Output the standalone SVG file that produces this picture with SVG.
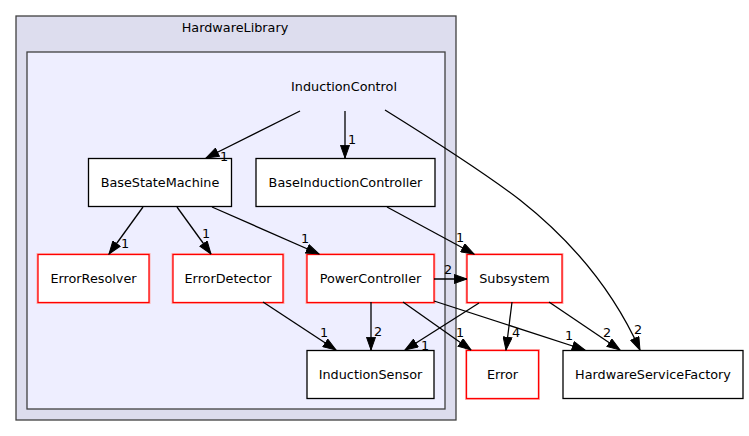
<svg xmlns="http://www.w3.org/2000/svg" width="749" height="436" viewBox="0 0 749 436">
<style>
text{font-family:"DejaVu Sans","Liberation Sans",sans-serif;font-size:12.8px;fill:#000}
.n{text-anchor:middle}
.cl1{fill:#ddddee;stroke:#404040;stroke-width:1.3}
.cl2{fill:#eeeeff;stroke:#404040;stroke-width:1.3}
.box{fill:#fff;stroke:#000;stroke-width:1.3}
.red{fill:#fff;stroke:#ff0000;stroke-width:1.3}
.halo{fill:none;stroke:#ffb0b0;stroke-width:3}
.e path{fill:none;stroke:#000;stroke-width:1.3;marker-end:url(#a)}
</style>
<defs>
<marker id="a" markerUnits="userSpaceOnUse" viewBox="0 -5 14 10" refX="13.3" refY="0" markerWidth="14" markerHeight="10" orient="auto">
<path d="M0.5,-4.5 L13.3,0 L0.5,4.5 Z" fill="#000" stroke="#000" stroke-width="1"/>
</marker>
</defs>
<g id="cluster_HardwareLibrary">
<rect class="cl1" x="16" y="16" width="440" height="404"/>
<text class="n" x="235" y="32">HardwareLibrary</text>
</g>
<g id="cluster_InductionControl">
<rect class="cl2" x="27" y="52" width="418" height="357"/>
</g>
<g id="InductionControl">
<text class="n" x="344" y="91">InductionControl</text>
</g>
<g id="BaseStateMachine">
<rect class="box" x="88.5" y="158.5" width="143" height="48"/>
<text class="n" x="160" y="187">BaseStateMachine</text>
</g>
<g id="BaseInductionController">
<rect class="box" x="256" y="158.5" width="179" height="48"/>
<text class="n" x="345.5" y="187">BaseInductionController</text>
</g>
<g id="ErrorResolver">
<rect class="halo" x="38" y="254.5" width="111" height="48"/>
<rect class="red" x="38" y="254.5" width="111" height="48"/>
<text class="n" x="93.5" y="283">ErrorResolver</text>
</g>
<g id="ErrorDetector">
<rect class="halo" x="173" y="254.5" width="110" height="48"/>
<rect class="red" x="173" y="254.5" width="110" height="48"/>
<text class="n" x="228" y="283">ErrorDetector</text>
</g>
<g id="PowerController">
<rect class="halo" x="307" y="254.5" width="127" height="48"/>
<rect class="red" x="307" y="254.5" width="127" height="48"/>
<text class="n" x="370.5" y="283">PowerController</text>
</g>
<g id="InductionSensor">
<rect class="box" x="307" y="350.5" width="127" height="48"/>
<text class="n" x="370.5" y="379">InductionSensor</text>
</g>
<g id="Subsystem">
<rect class="halo" x="467" y="254.5" width="95" height="48"/>
<rect class="red" x="467" y="254.5" width="95" height="48"/>
<text class="n" x="514.5" y="283">Subsystem</text>
</g>
<g id="Error">
<rect class="halo" x="466.5" y="350.5" width="72" height="48"/>
<rect class="red" x="466.5" y="350.5" width="72" height="48"/>
<text class="n" x="502.5" y="379">Error</text>
</g>
<g id="HardwareServiceFactory">
<rect class="box" x="563" y="350.5" width="180" height="48"/>
<text class="n" x="653" y="379">HardwareServiceFactory</text>
</g>
<g id="edges" class="e">
<path d="M300,111 L206,158"/>
<path d="M345,111 L345,158"/>
<path d="M385,110 C430,138 490,177 520,200 C572,241 614,292 640,350"/>
<path d="M143,207 L109,254"/>
<path d="M177,207 L211,254"/>
<path d="M212,207 L319,254"/>
<path d="M387,207 L474,254"/>
<path d="M434,279 L467,279"/>
<path d="M371,302 L371,350"/>
<path d="M263,302 L336,350"/>
<path d="M403,302 L471,350"/>
<path d="M434,301 L585,350"/>
<path d="M479,303 L405,350"/>
<path d="M512,302 L506,350"/>
<path d="M549,302 L620,350"/>
</g>
<g id="edge_labels">
<text x="220" y="161">1</text>
<text x="348" y="144">1</text>
<text x="634" y="334">2</text>
<text x="121" y="248">1</text>
<text x="202" y="238">1</text>
<text x="301" y="243">1</text>
<text x="456" y="242">1</text>
<text x="444" y="274">2</text>
<text x="374" y="336">2</text>
<text x="320" y="337">1</text>
<text x="456" y="337">1</text>
<text x="565" y="340">1</text>
<text x="421" y="350">1</text>
<text x="512" y="337">4</text>
<text x="603" y="337">2</text>
</g>
</svg>
